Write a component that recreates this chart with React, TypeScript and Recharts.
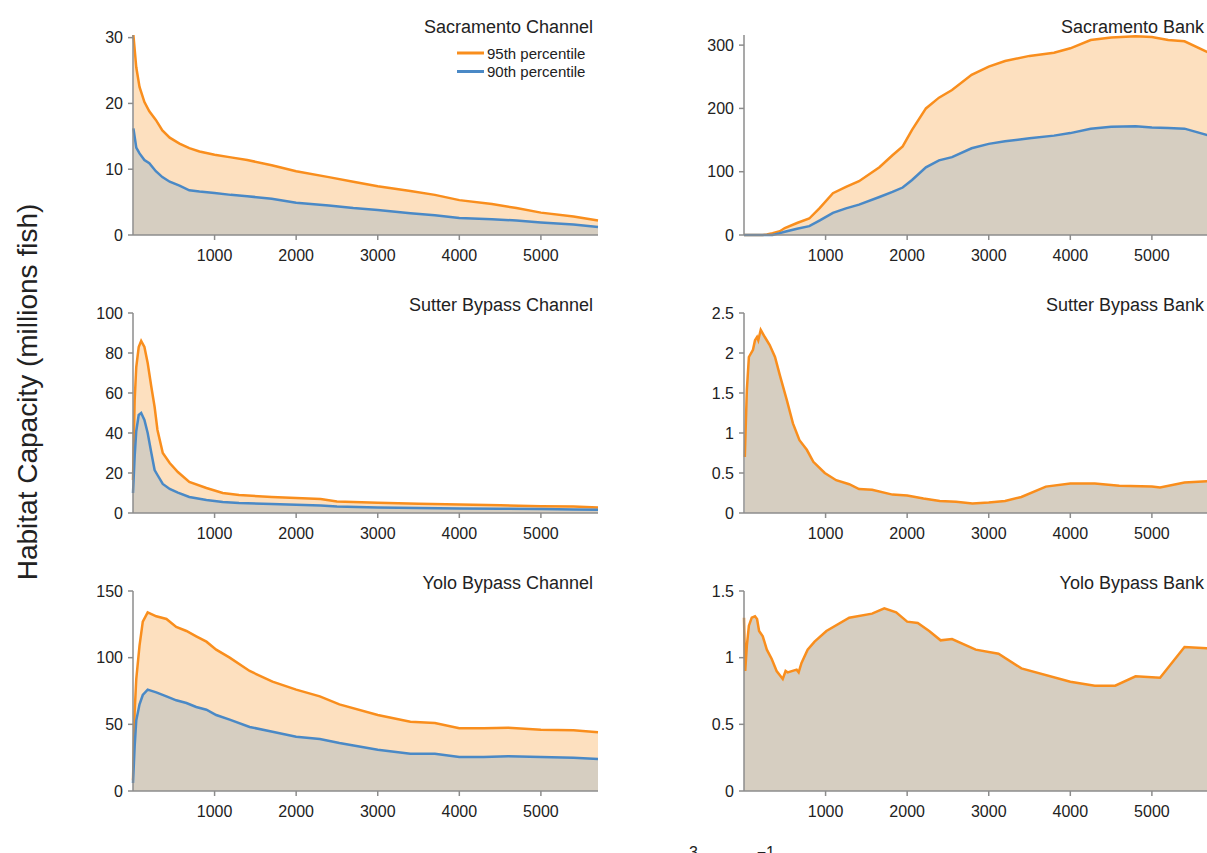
import React from "react";
import { Area, AreaChart, XAxis, YAxis } from "recharts";

const ORANGE = "#f98e1d";
const BLUE = "#4a89c6";
const PEACH = "#fde0bf";
const TAUPE = "#d6cec1";
const AXIS = "#8c8c8c";
const INK = "#222";
const FONT = '"Liberation Sans", Arial, Helvetica, sans-serif';

const flowTicks = [1000, 2000, 3000, 4000, 5000];

// Sacramento Channel
const sacChannelFlow = [5, 40, 80, 140, 200, 280, 360, 450, 570, 690, 815, 1000, 1200, 1400, 1700, 2000, 2400, 2700, 3000, 3400, 3700, 4000, 4400, 4700, 5000, 5400, 5700];
const sacChannelP95 = [30.4, 25.5, 22.5, 20.2, 18.8, 17.5, 15.9, 14.8, 13.9, 13.2, 12.7, 12.2, 11.8, 11.4, 10.6, 9.7, 8.8, 8.1, 7.4, 6.7, 6.1, 5.3, 4.7, 4.1, 3.4, 2.8, 2.2];
const sacChannelP90 = [16.2, 13.3, 12.4, 11.4, 10.9, 9.7, 8.8, 8.1, 7.5, 6.8, 6.6, 6.4, 6.1, 5.9, 5.5, 4.9, 4.5, 4.1, 3.8, 3.3, 3.0, 2.6, 2.4, 2.2, 1.9, 1.6, 1.2];

// Sacramento Bank
const sacBankFlow = [0, 230, 280, 350, 440, 500, 650, 800, 930, 1090, 1250, 1410, 1660, 1820, 1945, 2060, 2230, 2390, 2550, 2790, 3000, 3200, 3500, 3800, 4000, 4250, 4500, 4800, 5000, 5200, 5400, 5700];
const sacBankP95 = [0, 0, 1, 3, 6, 11, 19, 26, 43, 66, 76, 85, 107, 126, 140, 166, 200, 217, 229, 253, 266, 275, 283, 288, 295, 308, 312, 314, 313, 308, 306, 288];
const sacBankP90 = [0, 0, 0, 0, 3, 5, 10, 14, 23, 35, 42, 48, 60, 68, 75, 87, 107, 118, 123, 137, 144, 148, 153, 157, 161, 168, 171, 172, 170, 169, 168, 157];

// Sutter Bypass Channel
const sutChannelFlow = [0, 20, 40, 70, 100, 140, 180, 225, 265, 300, 365, 450, 550, 690, 900, 1100, 1300, 1700, 2300, 2500, 3000, 3500, 4000, 4500, 5000, 5400, 5700];
const sutChannelP95 = [16.5, 56, 73, 83, 86, 83, 75, 63, 53, 41.5, 30, 25, 20.5, 15.5, 12.5, 10, 9, 8, 7, 5.8, 5.1, 4.6, 4.3, 3.9, 3.4, 3.2, 2.8];
const sutChannelP90 = [10, 28, 41, 49, 50, 46.5, 40, 30, 21.5, 19, 14.5, 12, 10.2, 8, 6.5, 5.5, 5, 4.5, 3.8, 3.3, 2.8, 2.5, 2.3, 2.1, 2.0, 1.8, 1.6];

// Sutter Bypass Bank
const sutBankFlow = [10, 35, 60, 110, 135, 160, 175, 205, 255, 315, 380, 440, 525, 600, 680, 770, 850, 990, 1130, 1290, 1410, 1570, 1820, 2000, 2200, 2400, 2600, 2800, 3000, 3200, 3400, 3700, 4000, 4300, 4600, 5000, 5100, 5400, 5700];
const sutBankP95 = [0.7, 1.54, 1.95, 2.04, 2.16, 2.2, 2.16, 2.29, 2.2, 2.1, 1.95, 1.72, 1.41, 1.12, 0.91, 0.79, 0.64, 0.5, 0.41, 0.36, 0.3, 0.29, 0.23, 0.22, 0.18, 0.15, 0.14, 0.12, 0.13, 0.15, 0.2, 0.33, 0.37, 0.37, 0.34, 0.33, 0.32, 0.38, 0.4];

// Yolo Bypass Channel
const yoloChannelFlow = [0, 20, 40, 80, 120, 180, 285, 410, 530, 655, 775, 900, 1020, 1185, 1430, 1710, 2000, 2290, 2530, 3000, 3400, 3700, 4000, 4300, 4600, 5000, 5400, 5700];
const yoloChannelP95 = [8, 59, 84, 109, 127, 134, 131, 129, 123, 120, 116, 112, 106, 100, 90, 82, 76, 71, 65, 57, 52, 51, 47, 47, 47.5, 46, 45.5, 44];
const yoloChannelP90 = [6, 33, 53, 65, 72, 76, 74, 71, 68, 66, 63, 61, 57, 53.5, 48, 44.5, 40.7, 39, 36, 31, 28, 28, 25.5, 25.5, 26, 25.5, 25, 24];

// Yolo Bypass Bank
const yoloBankFlow = [0, 15, 35, 60, 95, 135, 160, 185, 230, 280, 340, 400, 475, 510, 535, 645, 670, 705, 780, 865, 1010, 1290, 1570, 1720, 1865, 2000, 2130, 2270, 2410, 2550, 2840, 3120, 3400, 4000, 4300, 4550, 4800, 5100, 5400, 5700];
const yoloBankP95 = [1.3, 0.9, 1.09, 1.24, 1.3, 1.31, 1.29, 1.2, 1.16, 1.06, 0.99, 0.9, 0.84, 0.9, 0.89, 0.91, 0.89, 0.96, 1.06, 1.12, 1.2, 1.3, 1.33, 1.37, 1.34, 1.27, 1.26, 1.2, 1.13, 1.14, 1.06, 1.03, 0.92, 0.82, 0.79, 0.79, 0.86, 0.85, 1.08, 1.07];

type Row = { flow: number; p95: number; p90?: number };

const toRows = (flow: number[], p95: number[], p90?: number[]): Row[] =>
  flow.map((f, i) => ({ flow: f, p95: p95[i], p90: p90 ? p90[i] : undefined }));

type PanelProps = {
  data: Row[];
  yMax: number;
  yTicks: number[];
  left: number;
  top: number;
  twoBands: boolean;
};

function Panel({ data, yMax, yTicks, left, top, twoBands }: PanelProps) {
  const tick = { fill: INK, fontSize: 16, fontFamily: FONT };
  return (
    <div style={{ position: "absolute", left, top }}>
      <AreaChart
        width={560}
        height={265}
        data={data}
        margin={{ top: 35, right: 22, bottom: 0, left: 0 }}
      >
        <XAxis
          type="number"
          dataKey="flow"
          domain={[0, 5700]}
          ticks={flowTicks}
          interval={0}
          height={30}
          stroke={AXIS}
          strokeWidth={1.5}
          tickSize={5}
          tickMargin={10}
          tick={tick}
        />
        <YAxis
          type="number"
          domain={[0, yMax]}
          ticks={yTicks}
          interval={0}
          width={73}
          stroke={AXIS}
          strokeWidth={1.5}
          tickSize={5}
          tickMargin={5}
          tick={tick}
        />
        <Area
          type="linear"
          dataKey="p95"
          stroke={ORANGE}
          strokeWidth={2.5}
          fill={twoBands ? PEACH : TAUPE}
          fillOpacity={1}
          dot={false}
          activeDot={false}
          isAnimationActive={false}
        />
        {twoBands && (
          <Area
            type="linear"
            dataKey="p90"
            stroke={BLUE}
            strokeWidth={2.5}
            fill={TAUPE}
            fillOpacity={1}
            dot={false}
            activeDot={false}
            isAnimationActive={false}
          />
        )}
      </AreaChart>
    </div>
  );
}

const titles = [
  { text: "Sacramento Channel", x: 593, y: 33 },
  { text: "Sacramento Bank", x: 1204, y: 33 },
  { text: "Sutter Bypass Channel", x: 593, y: 311 },
  { text: "Sutter Bypass Bank", x: 1204, y: 311 },
  { text: "Yolo Bypass Channel", x: 593, y: 589 },
  { text: "Yolo Bypass Bank", x: 1204, y: 589 },
];

export default function App() {
  return (
    <div
      style={{
        position: "absolute",
        left: 0,
        top: 0,
        width: 1207,
        height: 853,
        overflow: "hidden",
        background: "#fff",
        fontFamily: FONT,
      }}
    >
      <Panel data={toRows(sacChannelFlow, sacChannelP95, sacChannelP90)} yMax={30.4} yTicks={[0, 10, 20, 30]} left={60} top={0} twoBands />
      <Panel data={toRows(sacBankFlow, sacBankP95, sacBankP90)} yMax={316} yTicks={[0, 100, 200, 300]} left={671} top={0} twoBands />
      <Panel data={toRows(sutChannelFlow, sutChannelP95, sutChannelP90)} yMax={100} yTicks={[0, 20, 40, 60, 80, 100]} left={60} top={278} twoBands />
      <Panel data={toRows(sutBankFlow, sutBankP95)} yMax={2.5} yTicks={[0, 0.5, 1, 1.5, 2, 2.5]} left={671} top={278} twoBands={false} />
      <Panel data={toRows(yoloChannelFlow, yoloChannelP95, yoloChannelP90)} yMax={150} yTicks={[0, 50, 100, 150]} left={60} top={556} twoBands />
      <Panel data={toRows(yoloBankFlow, yoloBankP95)} yMax={1.5} yTicks={[0, 0.5, 1, 1.5]} left={671} top={556} twoBands={false} />

      <svg
        width={1207}
        height={853}
        style={{ position: "absolute", left: 0, top: 0, pointerEvents: "none" }}
        fontFamily={FONT}
      >
        {titles.map((t) => (
          <text key={t.text} x={t.x} y={t.y} textAnchor="end" fontSize={18} fill={INK}>
            {t.text}
          </text>
        ))}

        {/* legend */}
        <line x1={457} x2={484} y1={53} y2={53} stroke={ORANGE} strokeWidth={3} />
        <text x={487} y={58.5} fontSize={15} fill={INK}>95th percentile</text>
        <line x1={457} x2={484} y1={71.5} y2={71.5} stroke={BLUE} strokeWidth={3} />
        <text x={487} y={77} fontSize={15} fill={INK}>90th percentile</text>

        {/* axis titles */}
        <text x={37} y={392} transform="rotate(-90 37 392)" textAnchor="middle" fontSize={28} fill={INK}>
          Habitat Capacity (millions fish)
        </text>
        <text x={688} y={876} textAnchor="end" fontSize={24} fill={INK}>Flow (m</text>
        <text x={689} y={858} fontSize={16} fill={INK}>3</text>
        <text x={702} y={876} fontSize={24} fill={INK}>s</text>
        <text x={775} y={858} textAnchor="end" fontSize={16} fill={INK}>−1</text>
        <text x={778} y={876} fontSize={24} fill={INK}>)</text>
      </svg>
    </div>
  );
}
